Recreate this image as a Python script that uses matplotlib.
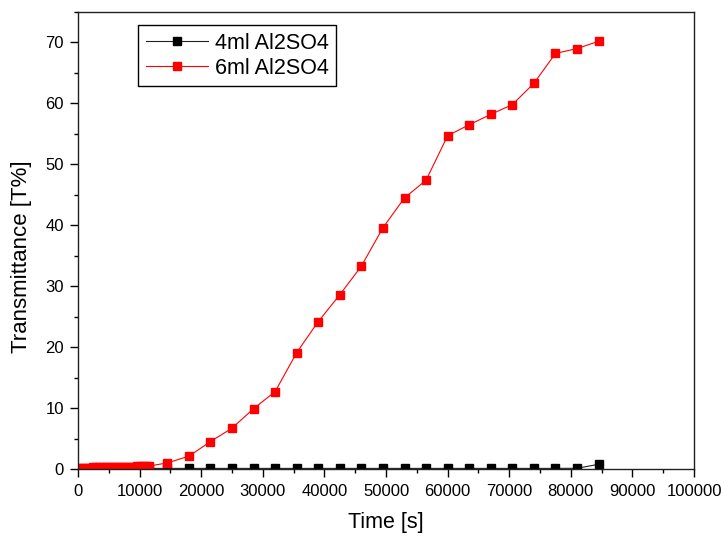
import matplotlib
matplotlib.use("Agg")
from matplotlib import pyplot as plt
from matplotlib.ticker import MultipleLocator

plt.rcParams['font.family'] = ['Liberation Sans', 'DejaVu Sans']

# tiempos de la primera parte (muestreo denso) y de la parte horaria
t_denso = [0, 500, 1000, 1500, 2000, 2500, 3000, 3500, 4000, 4500, 5000, 5500,
           6000, 6500, 7000, 7500, 8000, 8500, 9000, 9500, 10000, 10500, 11000, 11500]
t_largo = [14500, 18000, 21500, 25000, 28500, 32000, 35500, 39000, 42500, 46000,
           49500, 53000, 56500, 60000, 63500, 67000, 70500, 74000, 77500, 81000, 84500]

t_4ml = t_denso + t_largo
T_4ml = [0.05, 0.05, 0.06, 0.06, 0.07, 0.07, 0.08, 0.08, 0.08, 0.09, 0.09, 0.09,
         0.1, 0.1, 0.1, 0.1, 0.1, 0.1, 0.1, 0.1, 0.1, 0.1, 0.1, 0.1,
         0.1, 0.1, 0.1, 0.1, 0.1, 0.1, 0.1, 0.1, 0.1, 0.1, 0.1, 0.1,
         0.1, 0.1, 0.1, 0.1, 0.1, 0.1, 0.1, 0.12, 0.77]

t_6ml = t_denso + t_largo
T_6ml = [0.18, 0.2, 0.21, 0.22, 0.23, 0.25, 0.26, 0.27, 0.28, 0.3, 0.31, 0.32,
         0.33, 0.35, 0.36, 0.37, 0.38, 0.4, 0.41, 0.42, 0.44, 0.45, 0.47, 0.48,
         1.0, 2.1, 4.5, 6.7, 9.9, 12.7, 19.1, 24.2, 28.6, 33.3, 39.6, 44.5,
         47.4, 54.7, 56.5, 58.2, 59.8, 63.3, 68.2, 69.0, 70.2]

fig = plt.figure(figsize=(7.24, 5.36), dpi=100)
ax = fig.add_axes([0.1077, 0.125, 0.851, 0.8526])

ax.plot(t_4ml, T_4ml, color='#222222', linewidth=0.8, marker='s',
        markersize=5.5, markerfacecolor='black', markeredgecolor='black',
        label='4ml Al2SO4')
ax.plot(t_6ml, T_6ml, color='red', linewidth=0.8, marker='s',
        markersize=5.5, markerfacecolor='red', markeredgecolor='red',
        label='6ml Al2SO4')

ax.set_xlim(0, 100000)
ax.set_ylim(0, 75)
ax.xaxis.set_major_locator(MultipleLocator(10000))
ax.xaxis.set_minor_locator(MultipleLocator(5000))
ax.yaxis.set_major_locator(MultipleLocator(10))
ax.yaxis.set_minor_locator(MultipleLocator(5))
ax.tick_params(which='major', direction='out', length=6, width=1, labelsize=12)
ax.tick_params(which='minor', direction='out', length=3, width=1)
ax.tick_params(axis='x', which='major', pad=5)
ax.tick_params(axis='y', which='major', pad=4)
for s in ax.spines.values():
    s.set_linewidth(1)
    s.set_color('#222222')

ax.set_xlabel('Time [s]', fontsize=15.5, labelpad=9)
ax.set_ylabel('Transmittance [T%]', fontsize=16)
ax.yaxis.set_label_coords(-0.075, 0.464)

leg = ax.legend(loc='upper left', bbox_to_anchor=(0.0974, 0.9716), borderaxespad=0,
                fontsize=15.5, fancybox=False, edgecolor='black', framealpha=1,
                handlelength=2.88, borderpad=0.35, labelspacing=0.2,
                handletextpad=0.35)
leg.get_frame().set_linewidth(1)

fig.savefig('out.png', dpi=100)
